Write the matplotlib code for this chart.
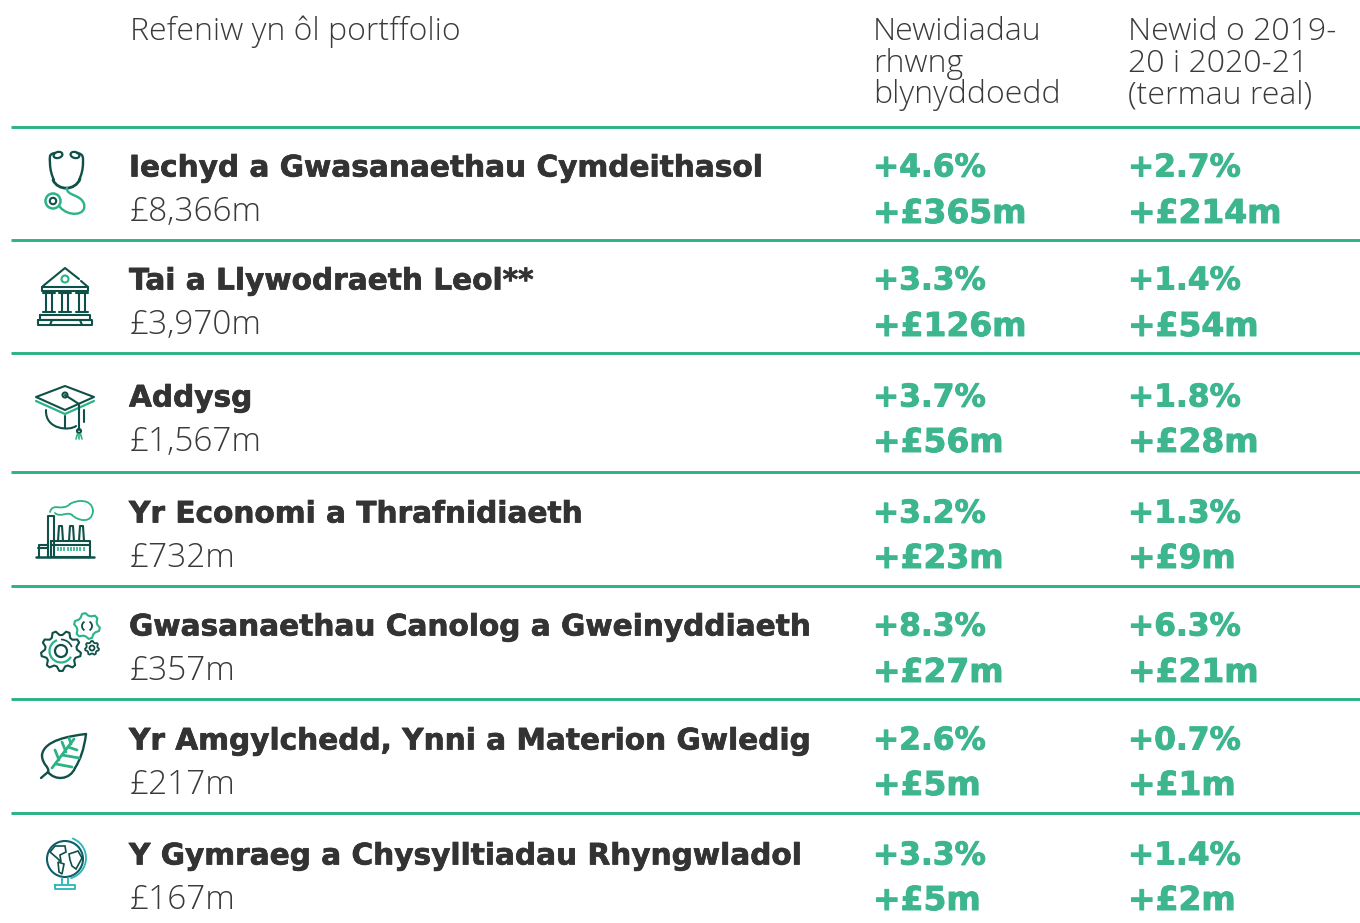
import numpy as np
import matplotlib
matplotlib.use('Agg')
import matplotlib.pyplot as plt
import matplotlib.patheffects as pe
from matplotlib.patches import Arc, Circle, Polygon, PathPatch
from matplotlib.path import Path

# Data tabel
portfolios = ['Iechyd a Gwasanaethau Cymdeithasol', 'Tai a Llywodraeth Leol**', 'Addysg',
              'Yr Economi a Thrafnidiaeth', 'Gwasanaethau Canolog a Gweinyddiaeth',
              'Yr Amgylchedd, Ynni a Materion Gwledig', 'Y Gymraeg a Chysylltiadau Rhyngwladol']
revenue = ['£8,366m', '£3,970m', '£1,567m', '£732m', '£357m', '£217m', '£167m']
pct_years = ['+4.6%', '+3.3%', '+3.7%', '+3.2%', '+8.3%', '+2.6%', '+3.3%']
amt_years = ['+£365m', '+£126m', '+£56m', '+£23m', '+£27m', '+£5m', '+£5m']
pct_real = ['+2.7%', '+1.4%', '+1.8%', '+1.3%', '+6.3%', '+0.7%', '+1.4%']
amt_real = ['+£214m', '+£54m', '+£28m', '+£9m', '+£21m', '+£1m', '+£2m']
headers = ['Refeniw yn ôl portffolio', 'Newidiadau\nrhwng\nblynyddoedd', 'Newid o 2019-\n20 i 2020-21\n(termau real)']

DARK = '#0f5048'
GREEN = '#2bb388'
VALUE = '#3db68f'
TEXT = '#333333'
TEAL = '#27b5b5'

line_y = [127, 240, 353, 472, 586, 699, 813]
title_y = [165, 278, 395, 511, 624, 738, 853]
sub_y = [208, 321, 438, 554, 667, 781, 896]
amt_y = [210, 323, 439, 555, 669, 782, 897]

fig = plt.figure(figsize=(13.6, 9.23), dpi=100)
ax = fig.add_axes([0, 0, 1, 1])
ax.set_xlim(0, 1360)
ax.set_ylim(923, 0)
ax.axis('off')


def line(pts, color=DARK, lw=1.5):
    xs, ys = zip(*pts)
    ax.plot(xs, ys, color=color, lw=lw, solid_capstyle='round', solid_joinstyle='round')


def curve(pts, color=DARK, lw=1.5):
    # pts: titik awal + kontrol kubik
    codes = [Path.MOVETO] + [Path.CURVE4] * (len(pts) - 1)
    ax.add_patch(PathPatch(Path(pts, codes), fc='none', ec=color, lw=lw, capstyle='round'))


def ring(x, y, r, color=DARK, lw=1.5):
    ax.add_patch(Circle((x, y), r, fc='none', ec=color, lw=lw))


def box(x0, y0, x1, y1, color=DARK, lw=1.5):
    line([(x0, y0), (x1, y0), (x1, y1), (x0, y1), (x0, y0)], color, lw)


def gear(x, y, r, teeth, color, lw=1.5):
    a = np.linspace(0, 2 * np.pi, teeth * 4, endpoint=False) + np.pi / teeth / 4
    rad = np.tile([r, r, r * 0.8, r * 0.8], teeth)
    ax.add_patch(Polygon(np.c_[x + rad * np.cos(a), y + rad * np.sin(a)], closed=True,
                         fc='none', ec=color, lw=lw, joinstyle='round'))


def stethoscope():
    curve([(55, 153), (48, 154), (50, 158), (50, 163)], lw=1.7)
    curve([(77, 153), (84, 154), (83, 158), (83, 163)], lw=1.7)
    ax.add_patch(Arc((58, 155), 9, 6, angle=-15, ec=DARK, lw=1.6))
    ax.add_patch(Arc((75, 155), 9, 6, angle=15, ec=DARK, lw=1.6))
    curve([(50, 163), (50, 170), (52, 176), (54, 180)], lw=1.7)
    curve([(83, 163), (83, 170), (81, 176), (79, 180)], lw=1.7)
    curve([(53, 180), (58, 191), (75, 191), (80, 179)], lw=2)
    curve([(67, 188), (66, 196), (81, 194), (84, 204)], GREEN, 1.7)
    curve([(84, 204), (87, 216), (68, 217), (60, 207)], GREEN, 1.7)
    ring(53, 201, 7.5, GREEN, 1.8)
    ring(53, 201, 3.2)


def temple():
    line([(43, 286), (65, 268), (79, 279)])
    line([(81, 281), (88, 287)])
    ring(65, 279, 3.5, GREEN)
    box(42, 287, 88, 291)
    for x in [49, 65, 82]:
        line([(x - 3, 293), (x - 3, 311)])
        line([(x + 3, 293), (x + 3, 311)])
        line([(x - 6, 293), (x + 6, 293)])
        line([(x - 6, 312), (x + 6, 312)])
    box(40, 315, 90, 320)
    box(38, 320, 92, 325)
    line([(52, 320), (50, 325)])
    line([(80, 320), (82, 325)])


def cap():
    ax.add_patch(Polygon([(36, 397), (65, 386), (94, 397), (65, 410)], closed=True,
                         fc='none', ec=DARK, lw=1.5, joinstyle='round'))
    line([(36, 401), (65, 414), (94, 401)], GREEN, 1.6)
    curve([(46, 410), (45, 430), (70, 431), (76, 426)])
    line([(84, 410), (84, 422)])
    line([(65, 416), (65, 428)])
    line([(65, 395), (79, 404), (79, 430)])
    ring(65, 395, 2.5)
    ring(79, 431, 2)
    for dx in [-3, 0, 3]:
        line([(79 + dx / 2, 434), (79 + dx, 439)], GREEN, 1.2)


def factory():
    line([(36, 557), (94, 557)], lw=1.8)
    line([(48, 557), (48, 516), (54, 516), (54, 557)])
    box(51, 541, 90, 557)
    line([(51, 545), (90, 545)])
    for x in [59, 70, 80]:
        line([(x - 1, 541), (x, 526), (x + 3, 526), (x + 4, 541)])
    line([(39, 557), (39, 545), (48, 545)])
    line([(38, 548), (48, 548)])
    ax.plot(np.arange(58, 86, 3.2), [549] * 9, ls='none', marker='|', ms=3, color=GREEN, mew=1.2)
    curve([(50, 512), (53, 502), (62, 512), (70, 504)], GREEN, 1.3)
    curve([(70, 504), (76, 500), (92, 498), (93, 511)], GREEN, 1.3)
    curve([(93, 511), (92, 524), (78, 521), (72, 515)], GREEN, 1.3)
    curve([(72, 515), (68, 511), (60, 518), (55, 513)], GREEN, 1.3)


def gears():
    gear(61, 651, 20, 9, DARK)
    ring(61, 651, 6, DARK, 1.6)
    ax.add_patch(Arc((61, 651), 23, 23, theta1=30, theta2=250, ec=GREEN, lw=1.6))
    ax.add_patch(Arc((61, 651), 23, 23, theta1=270, theta2=340, ec=DARK, lw=1.2))
    gear(87, 626, 13, 6, GREEN)
    ax.add_patch(Arc((87, 626), 10, 10, theta1=-60, theta2=60, ec=DARK, lw=1.3))
    ax.add_patch(Arc((87, 626), 10, 10, theta1=120, theta2=240, ec=DARK, lw=1.3))
    gear(92, 648, 7, 7, DARK, 1.3)
    ring(92, 648, 2.5, DARK, 1.3)


def leaf():
    curve([(86, 734), (70, 736), (44, 740), (42, 755)], lw=1.7)
    curve([(42, 755), (42, 765), (50, 767), (48, 772)], lw=1.7)
    line([(48, 772), (41, 778)], lw=1.7)
    curve([(48, 772), (55, 781), (70, 780), (75, 768)], lw=1.7)
    curve([(75, 768), (80, 760), (84, 750), (86, 734)], lw=1.7)
    line([(52, 768), (74, 739)], GREEN, 2)
    line([(56, 764), (72, 767)], GREEN, 2)
    line([(62, 755), (79, 758)], GREEN, 2)
    line([(68, 747), (77, 750)], GREEN, 2)
    line([(55, 750), (59, 760)], GREEN, 2)
    line([(62, 742), (66, 752)], GREEN, 2)
    line([(69, 738), (71, 744)], GREEN, 2)


def globe():
    ring(65, 859, 18, '#0f5d6b', 1.5)
    ax.add_patch(Arc((65, 858), 42, 42, theta1=-70, theta2=75, ec=TEAL, lw=1.3))
    ax.add_patch(Polygon([(55, 846), (65, 846), (66, 852), (60, 855), (61, 862), (57, 858), (50, 852)],
                         closed=True, fc='none', ec=DARK, lw=1.2))
    ax.add_patch(Polygon([(58, 862), (64, 864), (62, 874), (59, 872)], closed=True, fc='none', ec=DARK, lw=1.2))
    ax.add_patch(Polygon([(69, 854), (78, 851), (82, 858), (76, 869), (72, 866), (70, 860)],
                         closed=True, fc='none', ec=DARK, lw=1.2))
    line([(62, 878), (62, 884)], TEAL, 1.3)
    line([(68, 878), (68, 884)], TEAL, 1.3)
    box(55, 885, 75, 889, TEAL, 1.3)


for y in line_y:
    ax.plot([11, 1360], [y, y], color=GREEN, lw=2.1, solid_capstyle='butt')

# Header
for x, h in zip([130, 873, 1128], headers):
    ax.text(x, 16, h, family='Open Sans', fontweight='light', fontsize=23, color='#3a3a3a',
            va='top', ha='left', linespacing=0.98)

# sedikit tebal supaya mirip huruf extra bold aslinya
heavy = [pe.withStroke(linewidth=0.7, foreground=VALUE)]
heavy_dark = [pe.withStroke(linewidth=0.5, foreground=TEXT)]
for i in range(len(portfolios)):
    ax.text(129, title_y[i], portfolios[i], family='DejaVu Sans', fontweight='bold', fontsize=21.3,
            color=TEXT, va='center_baseline', ha='left', path_effects=heavy_dark)
    ax.text(130, sub_y[i], revenue[i], family='Open Sans', fontweight='light', fontsize=24,
            color='#3a3a3a', va='center_baseline', ha='left')
    for x, pct, amt in [(873, pct_years[i], amt_years[i]), (1128, pct_real[i], amt_real[i])]:
        ax.text(x, title_y[i], pct, family='DejaVu Sans', fontweight='bold', fontsize=22.5,
                color=VALUE, va='center_baseline', ha='left', path_effects=heavy)
        ax.text(x, amt_y[i], amt, family='DejaVu Sans', fontweight='bold', fontsize=23.7,
                color=VALUE, va='center_baseline', ha='left', path_effects=heavy)

stethoscope()
temple()
cap()
factory()
gears()
leaf()
globe()

fig.savefig('out.png', dpi=100)
